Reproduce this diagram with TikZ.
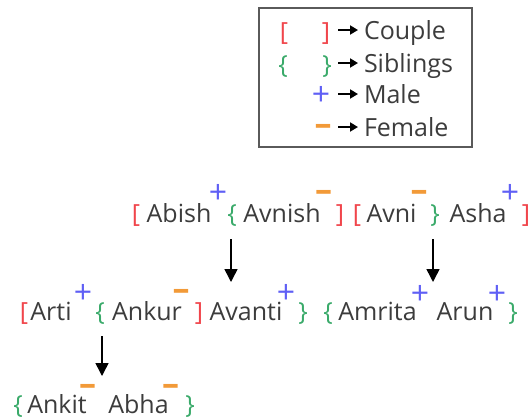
\documentclass[tikz,border=0pt]{standalone}
\usepackage{fontspec}
\setmainfont{Open Sans}
\usetikzlibrary{arrows.meta}
\definecolor{cred}{HTML}{F0454B}
\definecolor{cgreen}{HTML}{3AAA6A}
\definecolor{cblue}{HTML}{5F5FF5}
\definecolor{corange}{HTML}{F29A38}
\definecolor{ctext}{HTML}{3C3C3C}
\definecolor{cbox}{HTML}{5A5A5A}
\begin{document}
\begin{tikzpicture}[x=1bp,y=-1bp,
  every node/.style={inner sep=0pt, outer sep=0pt, font=\fontsize{25bp}{28bp}\selectfont},
  person/.style={text=ctext, anchor=base},
  cpl/.style={text=cred, anchor=base},
  sib/.style={text=cgreen, anchor=base},
  male/.style={text=cblue, anchor=base, yshift=-11bp, font=\fontsize{32bp}{34bp}\selectfont},
  fem/.style={text=corange, anchor=base, yshift=-9bp, font=\fontsize{34bp}{36bp}\selectfont\bfseries},
  legtext/.style={text=ctext, anchor=base west},
  arr/.style={line width=1.5bp, black, -{Triangle[width=13bp,length=13bp]}},
  legarr/.style={line width=1.8bp, black, -{Triangle[width=9bp,length=8bp]}}]
\useasboundingbox (0,0) rectangle (530,419);

% legend
\node[draw=cbox, line width=1.5bp, minimum width=213bp, minimum height=139bp, anchor=north west] (legend) at (259,8) {};
\node[cpl] (lb1) at (284,40) {[};
\node[cpl] (lb2) at (326,40) {]};
\coordinate (la1s) at (338,30); \coordinate (la1e) at (358,30);
\node[legtext] (lt1) at (364,39) {Couple};
\node[sib] (ls1) at (283,73) {\{};
\node[sib] (ls2) at (327,73) {\}};
\coordinate (la2s) at (338,63); \coordinate (la2e) at (358,63);
\node[legtext] (lt2) at (364,72) {Siblings};
\node[male] (lm) at (321,94) {+};
\coordinate (la3s) at (338,94); \coordinate (la3e) at (358,94);
\node[legtext] (lt3) at (364,103) {Male};
\node[fem] (lf) at (323,126) {–};
\coordinate (la4s) at (338,127); \coordinate (la4e) at (358,127);
\node[legtext] (lt4) at (364,136) {Female};
\draw[legarr] (la1s) -- (la1e);
\draw[legarr] (la2s) -- (la2e);
\draw[legarr] (la3s) -- (la3e);
\draw[legarr] (la4s) -- (la4e);

% row 1
\node[cpl] (r1b1) at (136,222) {[};
\node[person] (abish) at (179,222) {Abish};
\node[male] (abishg) at (218,192) {+};
\node[sib] (r1s1) at (232,222) {\{};
\node[person] (avnish) at (282,222) {Avnish};
\node[fem] (avnishg) at (323.5,192) {–};
\node[cpl] (r1b2) at (340,222) {]};
\node[cpl] (r1b3) at (357,222) {[};
\node[person] (avni) at (391.5,222) {Avni};
\node[fem] (avnig) at (419,192) {–};
\node[sib] (r1s2) at (435,222) {\}};
\node[person] (asha) at (478,222) {Asha};
\node[male] (ashag) at (510,192) {+};
\node[cpl] (r1b4) at (526,222) {]};

% row 2
\node[cpl] (r2b1) at (24,320) {[};
\node[person] (arti) at (51,320) {Arti};
\node[male] (artig) at (83,292) {+};
\node[sib] (r2s1) at (100,320) {\{};
\node[person] (ankur) at (147,320) {Ankur};
\node[fem] (ankurg) at (181,291) {–};
\node[cpl] (r2b2) at (199,320) {]};
\node[person] (avanti) at (246,320) {Avanti};
\node[male] (avantig) at (286,292) {+};
\node[sib] (r2s2) at (303,320) {\}};
\node[sib] (r2s3) at (328,320) {\{};
\node[person] (amrita) at (377.5,320) {Amrita};
\node[male] (amritag) at (420,293) {+};
\node[person] (arun) at (465,320) {Arun};
\node[male] (arung) at (497,293) {+};
\node[sib] (r2s4) at (513,320) {\}};

% row 3
\node[sib] (r3s1) at (18,413) {\{};
\node[person] (ankit) at (57,413) {Ankit};
\node[fem] (ankitg) at (87.5,386) {–};
\node[person] (abha) at (138.5,413) {Abha};
\node[fem] (abhag) at (170.5,386) {–};
\node[sib] (r3s2) at (190,413) {\}};

% arrows
\coordinate (a1s) at (231,239); \coordinate (a1e) at (231,282);
\coordinate (a2s) at (433,239); \coordinate (a2e) at (433,282);
\coordinate (a3s) at (102,336); \coordinate (a3e) at (102,376);
\draw[arr] (a1s) -- (a1e);
\draw[arr] (a2s) -- (a2e);
\draw[arr] (a3s) -- (a3e);
\end{tikzpicture}
\end{document}
